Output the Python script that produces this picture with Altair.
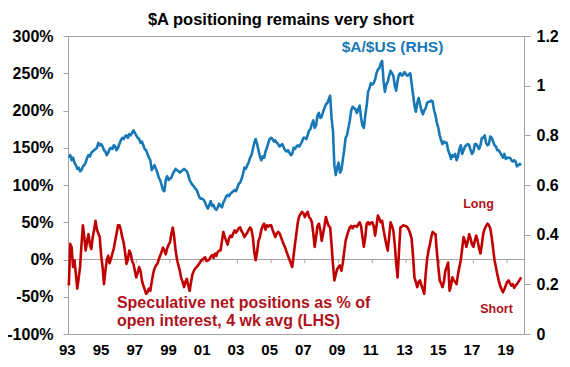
import altair as alt
import pandas as pd

# ---- data (monthly, Jan 1993 - Nov 2019) ----
aud_usd = [
    0.71, 0.72, 0.70, 0.71, 0.69, 0.68, 0.665, 0.67, 0.655, 0.66, 0.675, 0.68,      # 1993
    0.69, 0.71, 0.72, 0.715, 0.73, 0.735, 0.74, 0.745, 0.75, 0.77, 0.76, 0.765,     # 1994
    0.755, 0.74, 0.735, 0.72, 0.73, 0.745, 0.75, 0.745, 0.76, 0.755, 0.74, 0.75,    # 1995
    0.765, 0.78, 0.79, 0.785, 0.795, 0.80, 0.79, 0.805, 0.80, 0.81, 0.82, 0.81,     # 1996
    0.80, 0.79, 0.785, 0.77, 0.775, 0.76, 0.745, 0.74, 0.725, 0.71, 0.70, 0.66,     # 1997
    0.67, 0.68, 0.665, 0.65, 0.63, 0.62, 0.60, 0.58, 0.575, 0.62, 0.635, 0.62,      # 1998
    0.625, 0.63, 0.645, 0.655, 0.665, 0.66, 0.655, 0.65, 0.655, 0.66, 0.665, 0.66,  # 1999
    0.655, 0.64, 0.62, 0.61, 0.60, 0.595, 0.585, 0.58, 0.565, 0.55, 0.545, 0.545,   # 2000
    0.54, 0.53, 0.515, 0.505, 0.52, 0.535, 0.515, 0.52, 0.505, 0.50, 0.51, 0.525,   # 2001
    0.515, 0.51, 0.53, 0.54, 0.555, 0.56, 0.555, 0.565, 0.57, 0.575, 0.58, 0.575,   # 2002
    0.59, 0.605, 0.61, 0.625, 0.645, 0.67, 0.665, 0.68, 0.69, 0.71, 0.72, 0.745,    # 2003
    0.77, 0.785, 0.765, 0.74, 0.715, 0.70, 0.715, 0.71, 0.735, 0.75, 0.77, 0.785,   # 2004
    0.79, 0.785, 0.775, 0.78, 0.77, 0.765, 0.755, 0.76, 0.765, 0.75, 0.74, 0.735,   # 2005
    0.74, 0.73, 0.72, 0.725, 0.75, 0.745, 0.755, 0.76, 0.755, 0.765, 0.775, 0.79,   # 2006
    0.79, 0.785, 0.80, 0.82, 0.825, 0.845, 0.86, 0.83, 0.84, 0.88, 0.89, 0.87,      # 2007
    0.875, 0.895, 0.91, 0.925, 0.93, 0.945, 0.96, 0.87, 0.82, 0.68, 0.64, 0.67,     # 2008
    0.69, 0.65, 0.66, 0.70, 0.74, 0.79, 0.80, 0.83, 0.86, 0.90, 0.915, 0.91,        # 2009
    0.905, 0.89, 0.905, 0.92, 0.87, 0.84, 0.83, 0.88, 0.92, 0.975, 0.99, 1.01,      # 2010
    1.005, 1.01, 1.025, 1.05, 1.065, 1.07, 1.09, 1.10, 1.02, 0.975, 1.005, 1.015,   # 2011
    1.04, 1.06, 1.05, 1.04, 1.00, 0.98, 1.02, 1.045, 1.05, 1.04, 1.045, 1.055,      # 2012
    1.045, 1.04, 1.045, 1.05, 1.01, 0.965, 0.92, 0.895, 0.93, 0.95, 0.925, 0.90,    # 2013
    0.885, 0.90, 0.91, 0.93, 0.935, 0.935, 0.94, 0.935, 0.90, 0.88, 0.85, 0.83,     # 2014
    0.80, 0.78, 0.765, 0.775, 0.77, 0.77, 0.74, 0.725, 0.705, 0.72, 0.715, 0.725,   # 2015
    0.70, 0.715, 0.745, 0.76, 0.725, 0.74, 0.755, 0.76, 0.765, 0.76, 0.74, 0.725,   # 2016
    0.735, 0.765, 0.765, 0.755, 0.745, 0.76, 0.79, 0.79, 0.80, 0.77, 0.76, 0.765,   # 2017
    0.795, 0.79, 0.775, 0.76, 0.755, 0.74, 0.74, 0.73, 0.72, 0.71, 0.725, 0.705,    # 2018
    0.71, 0.71, 0.71, 0.70, 0.695, 0.70, 0.695, 0.675, 0.68, 0.685, 0.68,           # 2019
]

net_positions = [
    -35, 21, 16, -10, -1, -20, -39, -25, -10, 20, 46, 30,     # 1993
    12, 25, 34, 20, 14, 30, 40, 52, 40, 35, 30, 5,            # 1994
    -10, -33, -15, -1, 5, -5, 1, 8, 15, 25, 35, 46,           # 1995
    46, 40, 30, 23, 10, -6, 0, 12, 8, -2, -6, -15,            # 1996
    -24, -18, -10, -15, -28, -35, -40, -46, -44, -39, -42, -30,  # 1997
    -19, -12, -8, -6, 0, 5, 10, 16, 12, 7, 15, 20,            # 1998
    23, 35, 43, 30, 12, 0, -8, -15, -25, -30, -37, -30,       # 1999
    -26, -35, -42, -30, -20, -15, -12, -10, -8, -5, -2, 0,    # 2000
    1, 3, -2, -1, 0, 4, 6, 2, 8, 5, 10, 12,                   # 2001
    12, 25, 37, 30, 25, 20, 28, 32, 30, 35, 39, 36,           # 2002
    39, 42, 43, 38, 35, 30, 33, 36, 40, 43, 40, 30,           # 2003
    10, -1, 10, 25, 30, 40, 45, 48, 40, 46, 44, 46,           # 2004
    46, 40, 35, 30, 35, 37, 35, 30, 25, 20, 16, 10,           # 2005
    5, 0, -5, -10, 5, 21, 35, 50, 58, 61, 64, 62,             # 2006
    57, 61, 64, 57, 55, 50, 35, 17, 30, 45, 48, 40,           # 2007
    25, 35, 45, 57, 50, 45, 43, 20, -6, -28, -20, -13,        # 2008
    -10, -8, -15, -5, 10, 25, 32, 38, 43, 45, 42, 45,         # 2009
    45, 44, 47, 50, 45, 30, 17, 30, 48, 50, 47, 49,           # 2010
    50, 45, 32, 45, 59, 55, 50, 52, 40, 30, 20, 12,           # 2011
    30, 50, 45, 39, 20, -5, -24, 10, 43, 44, 46, 45,          # 2012
    45, 43, 40, 35, 28, 5, -24, -30, -37, -30, -28, -35,      # 2013
    -40, -46, -20, 0, 12, 20, 30, 37, 35, 34, 10, -10,        # 2014
    -28, -32, -37, -30, -15, -10, -4, -42, -35, -24, -28, -30,  # 2015
    -33, -20, -10, -1, 15, 30, 25, 17, 25, 34, 28, 20,        # 2016
    17, 25, 32, 25, 15, 8, 20, 35, 41, 45, 48, 46,            # 2017
    42, 30, 15, -1, -10, -20, -28, -35, -40, -44, -40, -35,   # 2018
    -30, -28, -32, -35, -33, -38, -35, -33, -30, -27, -24,    # 2019
]

x_label_years = [1993, 1995, 1997, 1999, 2001, 2003, 2005, 2007, 2009, 2011, 2013, 2015, 2017, 2019]
left_ticks = [-100, -50, 0, 50, 100, 150, 200, 250, 300]
right_ticks = [0, 0.2, 0.4, 0.6, 0.8, 1, 1.2]

# annotation positions (in data units)
red_labels = ["Speculative net positions as % of", "open interest, 4 wk avg (LHS)"]
red_label_t = [1995.85, 1995.85]
red_label_v = [-59, -83]
side_labels = ["Long", "Short"]
side_label_t = [2017.3, 2018.37]
side_label_v = [75, -67]
blue_label = ["$A/$US (RHS)"]
blue_label_t = [2012.2]
blue_label_v = [1.156]

FONT = "Liberation Sans"
BLUE = "#1878b6"
RED = "#c00000"
TXT_RED = "#b0121b"
GREY = "#a3a3a3"

n = len(aud_usd)
t = [1993 + i / 12 for i in range(n)]
df = pd.DataFrame({"t": t, "aud": aud_usd, "pos": net_positions[:n]})
ticks_df = pd.DataFrame({"t": x_label_years[1:]})
red_txt_df = pd.DataFrame({"t": red_label_t, "v": red_label_v, "label": red_labels})
side_txt_df = pd.DataFrame({"t": side_label_t, "v": side_label_v, "label": side_labels})
blue_txt_df = pd.DataFrame({"t": blue_label_t, "v": blue_label_v, "label": blue_label})

X0, X1 = 1992.95, 2020.0


def xs():
    return alt.Scale(domain=[X0, X1], nice=False, zero=False)


def ls():
    return alt.Scale(domain=[-100, 300], nice=False, zero=False)


def rs():
    return alt.Scale(domain=[0, 1.2], nice=False, zero=False)


def x_axis():
    return alt.Axis(
        values=x_label_years, labelExpr="substring(toString(datum.value), 2, 4)",
        domain=False, ticks=False, tickSize=0, grid=False, labelPadding=8,
        labelFont=FONT, labelFontSize=15, labelFontWeight="bold", labelColor="black",
        title=None, labelFlush=False, labelOffset=-2, labelBaseline="top",
    )


def X(field="t:Q"):
    return alt.X(field, scale=xs(), axis=x_axis())


left_axis = alt.Axis(
    values=left_ticks, labelExpr="datum.value + '%'", orient="left",
    domain=True, domainColor=GREY, ticks=True, tickColor=GREY, tickSize=5,
    grid=False, labelPadding=10, labelFont=FONT, labelFontSize=16,
    labelFontWeight="bold", labelColor="black", title=None,
)
right_axis = alt.Axis(
    values=right_ticks, format="~g", orient="right",
    domain=True, domainColor=GREY, ticks=True, tickColor=GREY, tickSize=6,
    grid=False, labelPadding=6, labelFont=FONT, labelFontSize=16,
    labelFontWeight="bold", labelColor="black", title=None,
)

zero_rule = alt.Chart(ticks_df).mark_rule(color=GREY, strokeWidth=1).encode(
    y=alt.Y(datum=0, scale=ls(), axis=None)
)
zero_ticks = alt.Chart(ticks_df).mark_rule(color=GREY, strokeWidth=1).encode(
    x=X(),
    y=alt.Y(datum=0, scale=ls(), axis=None),
    y2=alt.Y2(datum=-5),
)
red_line = alt.Chart(df).mark_line(color=RED, strokeWidth=2.6, strokeJoin="round").encode(
    x=X(),
    y=alt.Y("pos:Q", scale=ls(), axis=left_axis),
)
blue_line = alt.Chart(df).mark_line(color=BLUE, strokeWidth=2.6, strokeJoin="round").encode(
    x=X(),
    y=alt.Y("aud:Q", scale=rs(), axis=right_axis),
)
red_text = alt.Chart(red_txt_df).mark_text(
    align="left", baseline="middle", font=FONT, fontSize=16, fontWeight="bold", color=TXT_RED
).encode(
    x=X(),
    y=alt.Y("v:Q", scale=ls(), axis=None),
    text="label:N",
)
side_text = alt.Chart(side_txt_df).mark_text(
    align="center", baseline="middle", font=FONT, fontSize=12.5, fontWeight="bold", color=TXT_RED
).encode(
    x=X(),
    y=alt.Y("v:Q", scale=ls(), axis=None),
    text="label:N",
)
blue_text = alt.Chart(blue_txt_df).mark_text(
    align="center", baseline="middle", font=FONT, fontSize=15.5, fontWeight="bold", color=BLUE
).encode(
    x=X(),
    y=alt.Y("v:Q", scale=rs(), axis=None),
    text="label:N",
)

chart = alt.layer(
    zero_rule, zero_ticks, red_line, blue_line, red_text, side_text, blue_text
).resolve_scale(y="independent").properties(
    width=456, height=298,
    autosize=alt.AutoSizeParams(type="none"),
    padding={"left": 60, "top": 28, "right": 38, "bottom": 25},
    title=alt.TitleParams(
        "$A positioning remains very short", font=FONT, fontSize=16.5, fontWeight="bold",
        color="black", anchor="middle", dx=-15, offset=0,
    ),
    background="white",
).configure_view(stroke=GREY, strokeWidth=1)

chart.save("out.html", embed_options={"renderer": "svg", "actions": False})
